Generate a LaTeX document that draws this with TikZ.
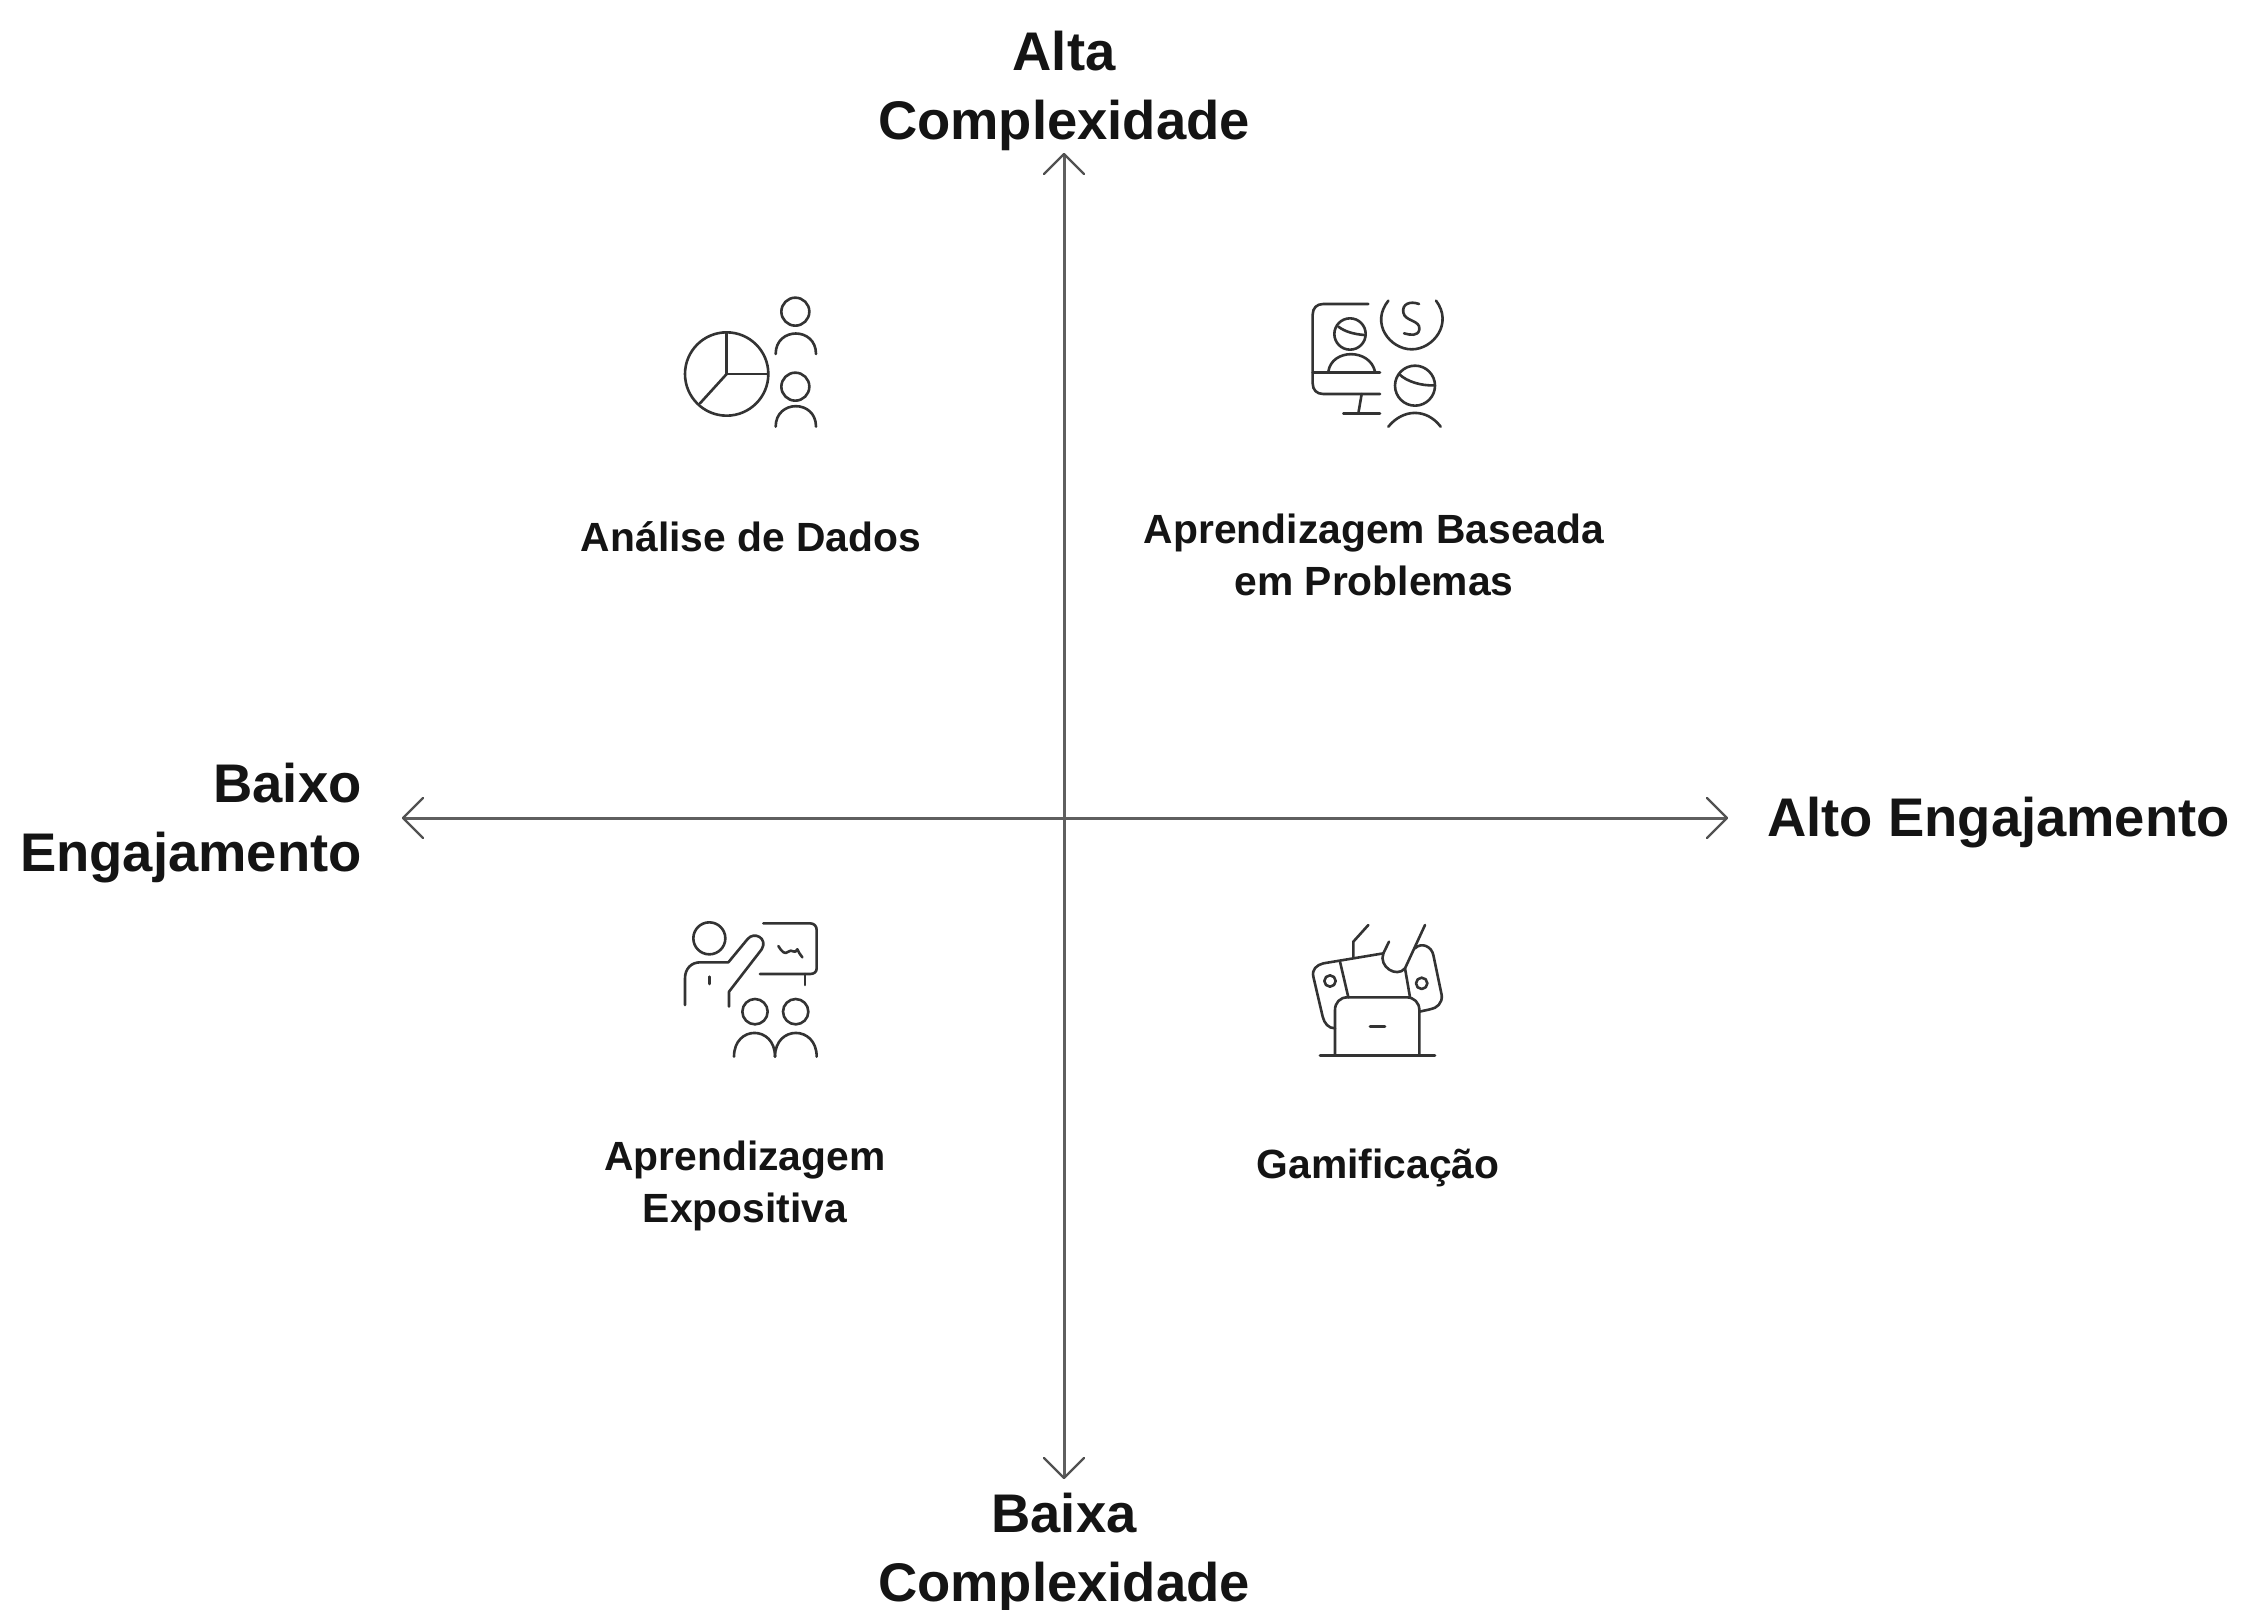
\documentclass[tikz,border=0pt]{standalone}
\usepackage{fontspec}
\setmainfont{Liberation Sans}
\definecolor{axisgray}{HTML}{5F5F5F}
\definecolor{ink}{HTML}{141414}
\definecolor{iconink}{HTML}{333333}
\tikzset{
  axisline/.style={draw=axisgray,line width=1.5pt},
  axishead/.style={draw=axisgray!85!black,line width=1.15pt,line cap=round,line join=round},
  biglabel/.style={text=ink,font=\fontsize{27.2}{34.5}\selectfont\bfseries,align=center,inner sep=0pt},
  biglabelr/.style={biglabel,align=right},
  smalllabel/.style={text=ink,font=\fontsize{20.4}{25.7}\selectfont\bfseries,align=center,inner sep=0pt},
  iconline/.style={draw=iconink,line width=1.3pt,line cap=round,line join=round},
  iconbox/.style={shift={(#1)},x=0.16667pt,y=-0.16667pt,iconline},
}
\begin{document}
\begin{tikzpicture}[x=0.5pt,y=-0.5pt]
\path[use as bounding box,fill=white] (0,0) rectangle (2242,1610);
% axes
\coordinate (top) at (1064,154);
\coordinate (bottom) at (1064,1478);
\coordinate (left) at (403,818);
\coordinate (right) at (1727,818);
\draw[axisline] (top) -- (bottom);
\draw[axisline] (left) -- (right);
\draw[axishead] ([shift={(-20,20)}]top) -- (top) -- ([shift={(20,20)}]top);
\draw[axishead] ([shift={(-20,-20)}]bottom) -- (bottom) -- ([shift={(20,-20)}]bottom);
\draw[axishead] ([shift={(20,-20)}]left) -- (left) -- ([shift={(20,20)}]left);
\draw[axishead] ([shift={(-20,-20)}]right) -- (right) -- ([shift={(-20,20)}]right);
% axis labels
\node[biglabel] (lblTop) at (1064,91) {Alta\\Complexidade};
\node[biglabel] (lblBottom) at (1064,1553) {Baixa\\Complexidade};
\node[biglabelr,anchor=east] (lblLeft) at (362,823) {Baixo\\Engajamento};
\node[biglabel,anchor=west] (lblRight) at (1767,823) {Alto Engajamento};
% quadrant labels
\node[smalllabel] (lblDados) at (751,537) {Análise de Dados};
\node[smalllabel] (lblABP) at (1374,555) {Aprendizagem Baseada\\em Problemas};
\node[smalllabel] (lblExp) at (745,1186) {Aprendizagem\\Expositiva};
\node[smalllabel] (lblGam) at (1378,1168) {Gamificação};
% icon: data analysis
\begin{scope}[iconbox={660,280}]
\draw (200,282) circle (125);
\draw (200,157) -- (200,282) -- (323,282);
\draw (200,282) -- (120,370);
\draw (406,95) circle (42);
\draw (347,222) .. controls (347,140) and (468,140) .. (468,222);
\draw (406,320) circle (42);
\draw (347,440) .. controls (347,358) and (468,358) .. (468,440);
\end{scope}
% icon: problem based learning
\begin{scope}[iconbox={1290,280}]
\draw (235,72) -- (100,72) .. controls (80,72) and (68,84) .. (68,104) -- (68,310) .. controls (68,330) and (80,342) .. (100,342) -- (270,342);
\draw (68,277) -- (270,277);
\draw (215,342) -- (205,400);
\draw (160,400) -- (270,400);
\draw (180,162) circle (47);
\draw (145,140) .. controls (165,155) and (190,162) .. (222,165);
\draw (115,275) .. controls (125,205) and (240,205) .. (255,275);
\draw (295,62) .. controls (240,130) and (300,208) .. (365,208) .. controls (430,208) and (490,130) .. (438,62);
\draw (387,72) .. controls (360,62) and (335,72) .. (340,98) .. controls (345,125) and (392,120) .. (388,148) .. controls (385,170) and (360,165) .. (342,160);
\draw (375,317) circle (60);
\draw (327,282) .. controls (350,305) and (395,318) .. (433,316);
\draw (295,440) .. controls (340,385) and (410,385) .. (452,440);
\end{scope}
% icon: lecture
\begin{scope}[iconbox={660,910}]
\draw (148,85) circle (48);
\draw (75,285) -- (75,205) .. controls (75,175) and (95,157) .. (120,157) -- (205,157) -- (262,88) .. controls (282,62) and (325,85) .. (305,118) -- (207,245) -- (207,290);
\draw (148,200) -- (148,222);
\draw (310,40) -- (450,40) .. controls (462,40) and (470,48) .. (470,60) -- (470,175) .. controls (470,186) and (462,192) .. (450,192) -- (300,192);
\draw (435,192) -- (435,225);
\draw (355,108) .. controls (365,125) and (375,135) .. (385,125) .. controls (395,115) and (405,135) .. (412,118) .. controls (416,125) and (420,135) .. (427,142);
\draw (285,305) circle (38);
\draw (407,305) circle (38);
\draw (222,440) .. controls (222,345) and (345,345) .. (345,440);
\draw (345,440) .. controls (345,345) and (470,345) .. (470,440);
\end{scope}
% icon: gamification
\begin{scope}[iconbox={1290,910}]
\draw (90,436) -- (435,436);
\draw (135,436) -- (135,300) .. controls (135,278) and (150,262) .. (172,262) -- (350,262) .. controls (372,262) and (388,278) .. (388,300) -- (388,436);
\draw (240,350) -- (285,350);
\draw (135,355) .. controls (115,355) and (103,340) .. (98,320) -- (70,200) .. controls (65,178) and (80,165) .. (100,160) -- (280,130);
\draw (150,155) -- (175,262);
\draw (190,140) -- (190,95) -- (235,45);
\draw (280,130) -- (297,95);
\draw (280,130) .. controls (265,170) and (320,205) .. (345,175) -- (405,45);
\draw (345,175) -- (360,262);
\draw (375,115) .. controls (395,95) and (425,110) .. (430,135) -- (455,255) .. controls (458,280) and (440,295) .. (420,298) -- (388,305);
\draw (120,213) circle (17);
\draw (395,220) circle (17);
\end{scope}
\end{tikzpicture}
\end{document}
